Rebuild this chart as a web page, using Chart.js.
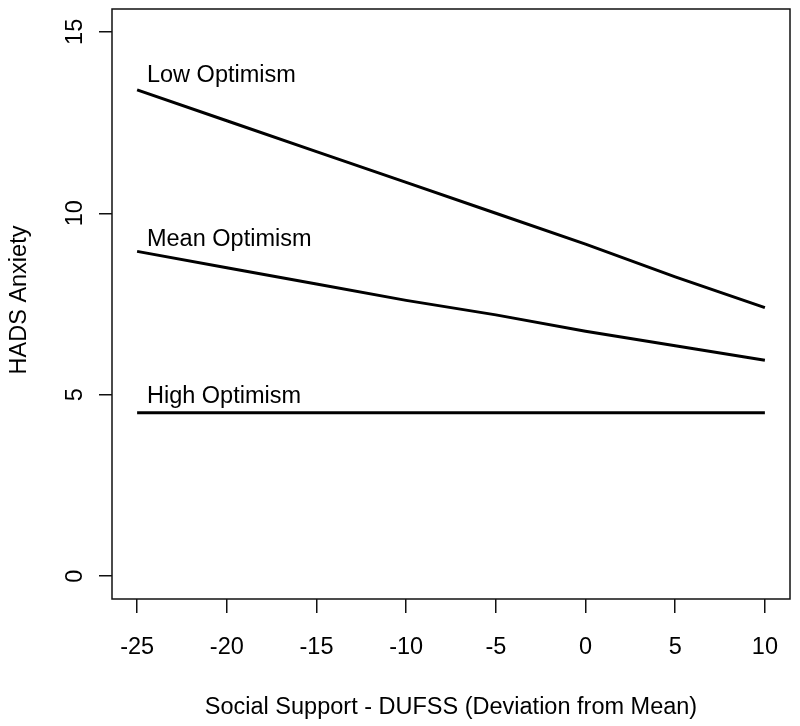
<!DOCTYPE html>
<html>
<head>
<meta charset="utf-8">
<script src="https://cdn.jsdelivr.net/npm/chart.js@4"></script>
<style>
  html, body { margin: 0; padding: 0; background: #fff; }
  #wrap { width: 800px; height: 726px; }
</style>
</head>
<body>
<div id="wrap"><canvas id="chart" width="800" height="726"></canvas></div>
<script>
// values
const support = [-25, -20, -15, -10, -5, 0, 5, 10];
const lowOptimism = [13.4, 12.55, 11.7, 10.85, 10.0, 9.15, 8.25, 7.4];
const meanOptimism = [8.95, 8.5, 8.05, 7.6, 7.2, 6.75, 6.35, 5.95];
const highOptimism = [4.5, 4.5, 4.5, 4.5, 4.5, 4.5, 4.5, 4.5];
const seriesNames = ['Low Optimism', 'Mean Optimism', 'High Optimism'];
const xTicks = [-25, -20, -15, -10, -5, 0, 5, 10];
const yTicks = [0, 5, 10, 15];

const FONT = '"Liberation Sans", Arial, sans-serif';

function toPoints(ys) {
    return support.map((x, i) => ({ x: x, y: ys[i] }));
}

// text labels next to each line, in data units
const lineLabels = [
    { text: seriesNames[0], x: -24.45, y: 13.62 },
    { text: seriesNames[1], x: -24.45, y: 9.1 },
    { text: seriesNames[2], x: -24.45, y: 4.77 }
];

const rPlot = {
    id: 'rPlot',
    afterDraw(chart) {
        const ctx = chart.ctx;
        const a = chart.chartArea;
        const xs = chart.scales.x;
        const ys = chart.scales.y;
        ctx.save();
        // box
        ctx.strokeStyle = '#111';
        ctx.lineWidth = 1.5;
        ctx.strokeRect(a.left, a.top, a.right - a.left, a.bottom - a.top);

        ctx.fillStyle = '#000';
        ctx.font = '23.5px ' + FONT;

        // line labels
        ctx.textAlign = 'left';
        ctx.textBaseline = 'alphabetic';
        lineLabels.forEach(l => {
            ctx.fillText(l.text, xs.getPixelForValue(l.x), ys.getPixelForValue(l.y));
        });

        // rotated y tick labels
        ys.ticks.forEach(t => {
            ctx.save();
            ctx.translate(82, ys.getPixelForValue(t.value));
            ctx.rotate(-Math.PI / 2);
            ctx.textAlign = 'center';
            ctx.textBaseline = 'alphabetic';
            ctx.fillText(String(t.value), 0, 0);
            ctx.restore();
        });

        // axis titles
        ctx.textAlign = 'center';
        ctx.textBaseline = 'alphabetic';
        ctx.fillText('Social Support - DUFSS (Deviation from Mean)', 451, 714);
        ctx.save();
        ctx.translate(26, 300);
        ctx.rotate(-Math.PI / 2);
        ctx.fillText('HADS Anxiety', 0, 0);
        ctx.restore();
        ctx.restore();
    }
};

const lineStyle = { borderColor: '#000', borderWidth: 3, pointRadius: 0, fill: false, tension: 0 };

new Chart(document.getElementById('chart').getContext('2d'), {
    type: 'line',
    data: {
        datasets: [
            Object.assign({ label: seriesNames[0], data: toPoints(lowOptimism) }, lineStyle),
            Object.assign({ label: seriesNames[1], data: toPoints(meanOptimism) }, lineStyle),
            Object.assign({ label: seriesNames[2], data: toPoints(highOptimism) }, lineStyle)
        ]
    },
    options: {
        responsive: false,
        animation: false,
        layout: { padding: { top: 9, right: 10, left: 0, bottom: 0 } },
        plugins: { legend: { display: false }, tooltip: { enabled: false } },
        scales: {
            x: {
                type: 'linear',
                min: -26.4,
                max: 11.4,
                afterBuildTicks: s => { s.ticks = xTicks.map(v => ({ value: v })); },
                afterFit: s => { s.height = 127; },
                border: { display: false },
                grid: { drawOnChartArea: false, drawTicks: true, tickLength: 14, color: '#111', lineWidth: 1.5 },
                ticks: { color: '#000', font: { family: FONT, size: 23.5 }, padding: 20, maxRotation: 0 }
            },
            y: {
                type: 'linear',
                min: -0.63,
                max: 15.63,
                afterBuildTicks: s => { s.ticks = yTicks.map(v => ({ value: v })); },
                afterFit: s => { s.width = 112; },
                border: { display: false },
                grid: { drawOnChartArea: false, drawTicks: true, tickLength: 13, color: '#111', lineWidth: 1.5 },
                ticks: { display: false }
            }
        }
    },
    plugins: [rPlot]
});
</script>
</body>
</html>
